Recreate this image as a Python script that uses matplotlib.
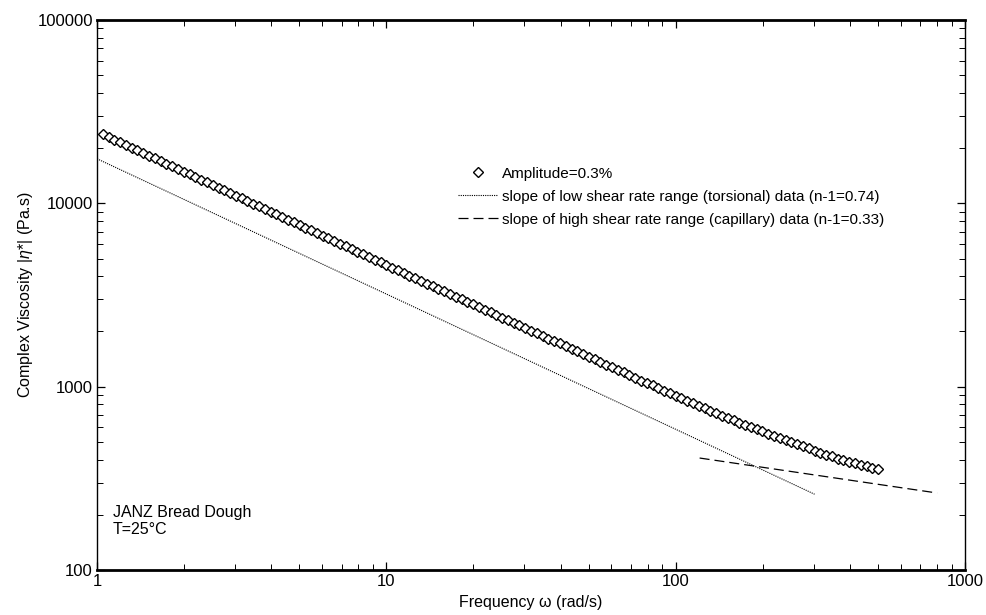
import matplotlib
matplotlib.use("Agg")
import matplotlib.pyplot as plt
import matplotlib.ticker as ticker

plt.rcParams["font.family"] = ["Liberation Sans", "DejaVu Sans"]
plt.rcParams["mathtext.fontset"] = "custom"
plt.rcParams["mathtext.it"] = "Liberation Sans:italic"
plt.rcParams["mathtext.rm"] = "Liberation Sans"

# frequency sweep (rad/s)
freq = [
    1.047, 1.096, 1.148, 1.202, 1.259, 1.318, 1.380, 1.445, 1.514, 1.585,
    1.660, 1.738, 1.820, 1.905, 1.995, 2.089, 2.188, 2.291, 2.399, 2.512,
    2.630, 2.754, 2.884, 3.020, 3.162, 3.311, 3.467, 3.631, 3.802, 3.981,
    4.169, 4.365, 4.571, 4.786, 5.012, 5.248, 5.495, 5.754, 6.026, 6.310,
    6.607, 6.918, 7.244, 7.586, 7.943, 8.318, 8.710, 9.120, 9.550, 10.00,
    10.47, 10.96, 11.48, 12.02, 12.59, 13.18, 13.80, 14.45, 15.14, 15.85,
    16.60, 17.38, 18.20, 19.05, 19.95, 20.89, 21.88, 22.91, 23.99, 25.12,
    26.30, 27.54, 28.84, 30.20, 31.62, 33.11, 34.67, 36.31, 38.02, 39.81,
    41.69, 43.65, 45.71, 47.86, 50.12, 52.48, 54.95, 57.54, 60.26, 63.10,
    66.07, 69.18, 72.44, 75.86, 79.43, 83.18, 87.10, 91.20, 95.50, 100.0,
    104.7, 109.6, 114.8, 120.2, 125.9, 131.8, 138.0, 144.5, 151.4, 158.5,
    166.0, 173.8, 182.0, 190.5, 199.5, 208.9, 218.8, 229.1, 239.9, 251.2,
    263.0, 275.4, 288.4, 302.0, 316.2, 331.1, 346.7, 363.1, 380.2, 398.1,
    416.9, 436.5, 457.1, 478.6, 501.2,
]
# complex viscosity |eta*| (Pa.s), amplitude 0.3%
visc = [
    23770, 22980, 22230, 21490, 20790, 20100, 19440, 18800, 18180, 17580,
    17000, 16440, 15900, 15370, 14870, 14380, 13900, 13440, 13000, 12570,
    12160, 11760, 11370, 11000, 10630, 10280, 9940, 9610, 9300, 8990,
    8690, 8410, 8130, 7860, 7600, 7350, 7110, 6880, 6650, 6430,
    6220, 6010, 5820, 5620, 5440, 5260, 5090, 4920, 4760, 4600,
    4450, 4310, 4170, 4030, 3900, 3780, 3650, 3540, 3420, 3310,
    3200, 3100, 3000, 2900, 2810, 2720, 2630, 2550, 2460, 2380,
    2310, 2230, 2160, 2090, 2020, 1960, 1890, 1830, 1770, 1720,
    1660, 1610, 1560, 1510, 1460, 1410, 1360, 1320, 1280, 1240,
    1200, 1160, 1120, 1080, 1050, 1020, 983, 951, 920, 890,
    863, 837, 812, 787, 763, 740, 718, 696, 675, 654,
    636, 619, 602, 586, 570, 554, 539, 524, 510, 496,
    484, 472, 460, 448, 437, 426, 416, 405, 397, 390,
    382, 375, 368, 361, 354,
]

# slope guide lines (end points)
low_x = [1.0, 302.0]
low_y = [17500, 259]
high_x = [121.0, 801.0]
high_y = [408, 263]

fig = plt.figure(figsize=(9.86, 6.15), dpi=100)
ax = fig.add_axes([0.0984, 0.0732, 0.8803, 0.8943])

ax.plot(freq, visc, linestyle="none", marker="D", markersize=5,
        markerfacecolor="white", markeredgecolor="black", markeredgewidth=1.0,
        label="Amplitude=0.3%")
ax.plot(low_x, low_y, color="black", linestyle=(0, (1.0, 1.0)), linewidth=0.8,
        label="slope of low shear rate range (torsional) data (n-1=0.74)")
ax.plot(high_x, high_y, color="black", linestyle=(0, (8, 4)), linewidth=0.9,
        label="slope of high shear rate range (capillary) data (n-1=0.33)")

ax.set_xscale("log")
ax.set_yscale("log")
ax.set_xlim(1, 1000)
ax.set_ylim(100, 100000)
fmt = ticker.FuncFormatter(lambda v, _: f"{int(round(v))}")
ax.xaxis.set_major_formatter(fmt)
ax.yaxis.set_major_formatter(fmt)
ax.xaxis.set_minor_formatter(ticker.NullFormatter())
ax.yaxis.set_minor_formatter(ticker.NullFormatter())
ax.tick_params(which="both", direction="in", top=True, right=True,
               labelsize=12, color="black")
ax.tick_params(which="major", length=6, width=0.9, pad=3)
ax.tick_params(which="minor", length=4, width=0.7)

for side in ("top", "bottom"):
    ax.spines[side].set_linewidth(2.0)
for side in ("left", "right"):
    ax.spines[side].set_linewidth(1.0)

ax.set_xlabel("Frequency \u03c9 (rad/s)", fontsize=11.5, labelpad=4)
ax.set_ylabel(r"Complex Viscosity |$\it{\eta}$*| (Pa.s)", fontsize=11.5, labelpad=2)

ax.text(0.018, 0.118, "JANZ Bread Dough\nT=25\u00b0C", transform=ax.transAxes,
        fontsize=11.5, va="top", ha="left", linespacing=1.2)

ax.legend(loc="upper left", bbox_to_anchor=(0.416, 0.733), frameon=False,
          fontsize=11, handlelength=2.6, handletextpad=0.3, labelspacing=0.58,
          borderaxespad=0, borderpad=0)

fig.savefig("out.png", dpi=100)
